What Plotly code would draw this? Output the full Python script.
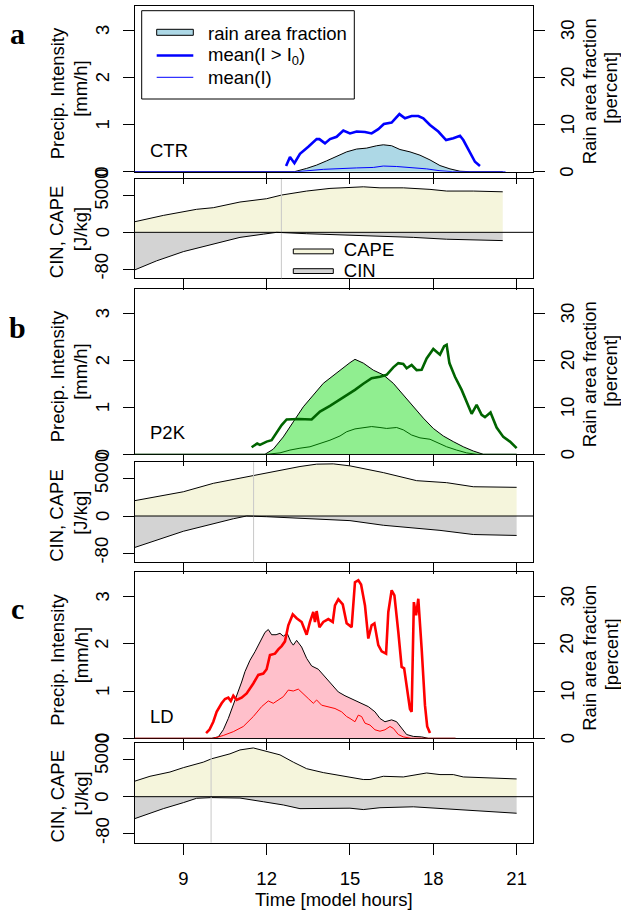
import plotly.graph_objects as go

# ---------------- data ----------------
hour_ticks = [9, 12, 15, 18, 21]
precip_ticks = [0, 1, 2, 3]
frac_ticks = [0, 10, 20, 30]
ref_times = [12.53, 11.53, 10.0]          # grey vertical marker per experiment
exp_names = ["CTR", "P2K", "LD"]
panel_letters = ["a", "b", "c"]

# CTR
ctr_int_t = [12.70, 12.84, 13.0, 13.2, 13.5, 13.62, 13.8, 13.9, 14.1, 14.28, 14.52, 14.76, 15.0, 15.24,
             15.54, 15.78, 16.02, 16.22, 16.5, 16.78, 16.98, 17.22, 17.46, 17.64, 17.88, 18.18, 18.46,
             18.72, 18.96, 19.08, 19.32, 19.5, 19.68]
ctr_int = [0.12, 0.31, 0.18, 0.38, 0.53, 0.60, 0.69, 0.69, 0.60, 0.69, 0.74, 0.87, 0.81, 0.85,
           0.84, 0.81, 0.90, 1.01, 1.04, 1.22, 1.13, 1.18, 1.18, 1.13, 0.99, 0.85, 0.67,
           0.71, 0.76, 0.67, 0.39, 0.21, 0.12]
ctr_frac_t = [7.0, 13.0, 13.44, 13.8, 14.16, 14.52, 14.88, 15.24, 15.6, 15.96, 16.2, 16.5, 16.8,
              17.16, 17.52, 17.88, 18.24, 18.6, 18.96, 19.32, 20.5]
ctr_frac = [0, 0, 0.7, 1.4, 2.3, 3.3, 4.2, 4.8, 5.0, 5.5, 5.7, 5.5, 4.7,
            4.2, 3.5, 2.5, 1.3, 0.6, 0.1, 0, 0]
ctr_mean_t = [7.0, 13.1, 14.04, 14.64, 15.24, 15.84, 16.2, 16.68, 17.28, 17.76, 18.24, 18.7, 20.6]
ctr_mean = [0, 0, 0.05, 0.07, 0.08, 0.09, 0.12, 0.11, 0.08, 0.06, 0.02, 0, 0]

# P2K
p2k_int_t = [11.46, 11.58, 11.66, 11.76, 12.0, 12.18, 12.36, 12.54, 12.72, 13.14, 13.62, 13.92, 14.28,
             14.64, 14.88, 15.18, 15.48, 15.78, 16.08, 16.32, 16.56, 16.74, 16.92, 17.04, 17.22, 17.40,
             17.58, 17.76, 18.0, 18.24, 18.39, 18.48, 18.58, 18.78, 19.02, 19.26, 19.38, 19.56, 19.74,
             19.86, 20.06, 20.28, 20.52, 20.76, 21.0]
p2k_int = [0.15, 0.20, 0.23, 0.20, 0.27, 0.30, 0.45, 0.62, 0.74, 0.75, 0.74, 0.91, 1.03,
           1.16, 1.26, 1.37, 1.50, 1.62, 1.65, 1.69, 1.85, 1.94, 1.92, 1.83, 1.90, 1.79,
           1.80, 2.04, 2.24, 2.12, 2.30, 2.33, 1.94, 1.65, 1.37, 1.05, 0.86, 1.05, 0.84,
           0.79, 0.89, 0.57, 0.37, 0.27, 0.13]
p2k_frac_t = [7.0, 11.94, 12.24, 12.6, 12.96, 13.32, 13.68, 14.04, 14.28, 14.64, 15.0, 15.18, 15.48,
              15.84, 16.2, 16.56, 16.92, 17.28, 17.64, 18.0, 18.36, 18.72, 19.08, 19.44, 19.8, 21.0]
p2k_frac = [0, 0, 1.1, 3.7, 6.9, 10.1, 12.6, 15.1, 16.2, 17.9, 19.5, 20.2, 19.4,
            17.9, 16.9, 15.1, 12.6, 10.1, 7.7, 5.5, 3.9, 2.7, 1.6, 0.7, 0, 0]
p2k_mean_t = [7.0, 12.0, 12.48, 12.84, 13.2, 13.56, 13.92, 14.28, 14.64, 14.88, 15.18, 15.48, 15.78,
              16.08, 16.32, 16.68, 16.92, 17.22, 17.52, 17.88, 18.24, 18.48, 18.84, 19.2, 19.56, 21.0]
p2k_mean = [0, 0, 0.03, 0.09, 0.13, 0.16, 0.23, 0.30, 0.39, 0.48, 0.54, 0.57, 0.59,
            0.57, 0.55, 0.57, 0.52, 0.41, 0.35, 0.32, 0.23, 0.16, 0.09, 0.03, 0, 0]

# LD
ld_int_t = [9.82, 9.94, 10.08, 10.2, 10.38, 10.5, 10.62, 10.71, 10.8, 10.92, 11.1, 11.28, 11.52, 11.7,
            11.88, 12.0, 12.12, 12.3, 12.42, 12.54, 12.66, 12.78, 12.94, 13.08, 13.26, 13.44, 13.56,
            13.68, 13.74, 13.8, 13.9, 14.04, 14.22, 14.38, 14.46, 14.58, 14.74, 14.88, 15.06, 15.18,
            15.3, 15.4, 15.54, 15.66, 15.78, 15.88, 16.02, 16.14, 16.3, 16.38, 16.5, 16.6, 16.74,
            16.86, 16.95, 17.04, 17.16, 17.22, 17.3, 17.38, 17.46, 17.58, 17.7, 17.78, 17.88]
ld_int = [0.11, 0.18, 0.35, 0.56, 0.74, 0.83, 0.86, 0.79, 0.90, 0.81, 0.86, 0.95, 1.16, 1.34,
          1.37, 1.46, 1.76, 1.79, 1.88, 1.95, 2.05, 2.39, 2.62, 2.54, 2.46, 2.19, 2.46,
          2.67, 2.46, 2.69, 2.35, 2.46, 2.52, 2.46, 2.81, 2.94, 2.83, 2.43, 2.35, 3.30,
          3.34, 3.25, 2.81, 2.11, 2.39, 2.43, 1.97, 1.84, 1.79, 2.67, 3.13, 3.02, 2.25,
          1.51, 1.48, 1.12, 0.62, 0.56, 2.88, 2.60, 2.95, 1.90, 0.70, 0.25, 0.11]
ld_frac_t = [7.0, 10.02, 10.26, 10.44, 10.62, 10.8, 10.98, 11.1, 11.22, 11.4, 11.58, 11.76, 11.94, 12.06,
             12.18, 12.34, 12.48, 12.6, 12.74, 12.87, 12.96, 13.08, 13.18, 13.26, 13.44, 13.62, 13.86,
             14.1, 14.34, 14.58, 14.82, 15.0, 15.18, 15.42, 15.66, 15.9, 16.08, 16.26, 16.5, 16.68,
             16.86, 17.04, 17.28, 17.58, 17.82, 18.8]
ld_frac = [0, 0, 0.3, 1.8, 4.2, 7.0, 9.8, 11.9, 14.1, 16.5, 18.3, 20.4, 22.4, 23.0,
           21.9, 21.9, 22.2, 21.6, 22.2, 20.4, 19.7, 20.7, 20.0, 19.3, 16.9, 15.3, 14.6,
           13.0, 11.2, 9.8, 9.0, 8.5, 7.9, 7.4, 6.7, 5.6, 4.2, 3.5, 3.9, 3.5,
           2.1, 0.8, 0.4, 0.3, 0, 0]
ld_mean_t = [7.0, 10.08, 10.44, 10.8, 11.16, 11.52, 11.82, 12.06, 12.24, 12.42, 12.6, 12.78, 12.96,
             13.14, 13.32, 13.5, 13.68, 13.8, 13.98, 14.22, 14.46, 14.7, 14.88, 15.0, 15.18, 15.3,
             15.42, 15.54, 15.72, 15.9, 16.08, 16.26, 16.44, 16.56, 16.74, 16.92, 17.2, 18.8]
ld_mean = [0, 0, 0.06, 0.14, 0.25, 0.46, 0.67, 0.79, 0.74, 0.81, 0.88, 1.02, 1.0,
           1.04, 0.95, 0.84, 0.74, 0.81, 0.70, 0.67, 0.63, 0.56, 0.46, 0.42, 0.35, 0.49,
           0.46, 0.32, 0.28, 0.18, 0.15, 0.18, 0.25, 0.21, 0.08, 0.03, 0, 0]

# CAPE / CIN  [J/kg]
ctr_cape_t = [7.0, 8.28, 9.48, 10.08, 11.04, 12.0, 12.54, 13.44, 14.28, 15.48, 16.08, 16.92, 17.88, 18.48, 19.44, 20.5]
ctr_cape = [1230, 2300, 3130, 3350, 4120, 4570, 5070, 5610, 5970, 6190, 6050, 6050, 5840, 5610, 5610, 5510]
ctr_cin_t = [7.0, 8.04, 9.0, 10.08, 11.04, 11.88, 12.36, 13.44, 15.48, 17.28, 18.48, 20.5]
ctr_cin = [-88, -62, -42, -25.5, -11, -4, 0, -3, -7, -11, -15, -18]

p2k_cape_t = [7.0, 9.0, 10.08, 11.04, 11.52, 12.6, 13.2, 13.8, 14.4, 15.0, 16.2, 17.4, 18.48, 19.44, 21.0]
p2k_cape = [1900, 3270, 4410, 5100, 5450, 6320, 6680, 7000, 7040, 6770, 5860, 4770, 4500, 3950, 3870]
p2k_cin_t = [7.0, 9.0, 10.8, 11.28, 12.0, 13.8, 14.4, 15.0, 16.2, 17.4, 18.24, 19.44, 21.0]
p2k_cin = [-73, -33, -6, 0, -1.5, -6, -8, -10, -20, -27, -31, -40, -42]

ld_cape_t = [7.0, 7.8, 8.52, 9.0, 9.72, 10.02, 10.68, 11.04, 11.52, 12.0, 12.48, 12.96, 13.44, 14.04,
             14.76, 15.48, 15.72, 16.2, 16.92, 17.76, 18.24, 18.72, 19.08, 20.04, 20.64, 21.0]
ld_cape = [1800, 2770, 3350, 3940, 4690, 5150, 5820, 6350, 6620, 6130, 5680, 4690, 3800, 3270,
           2770, 2330, 2330, 2770, 2680, 3220, 3000, 3000, 2680, 2550, 2370, 2410]
ld_cin_t = [7.0, 8.28, 9.0, 9.48, 10.02, 11.04, 11.88, 12.6, 13.2, 14.28, 15.0, 15.48, 16.08, 17.28,
            18.48, 19.32, 21.0]
ld_cin = [-53, -26, -13, -3.5, -2, -3, -11, -18, -26, -26, -25, -28, -24, -22, -26, -30, -36]

cape_unit = 5000.0   # CAPE tick "5000" and CIN tick "-80" share one plotted unit
cin_unit = 80.0
energy_tick_pos = [-1, 0, 1]
energy_tick_text = ["-80", "0", "5000"]

# ---------------- layout helpers ----------------
W, H = 621, 911
FONT = "Liberation Sans, Arial, sans-serif"
FS = 18.5


def fx(p):
    return p / W


def fy(p):
    return 1 - p / H


X_DOM = [fx(134.7), fx(533.3)]
X_RANGE = [7.25, 21.6]
PRE_BOX = [(6.0, 171.7), (289.3, 454.3), (572.3, 738.3)]
CAPE_BOX = [(179.0, 278.3), (462.3, 562.3), (743.3, 842.7)]

styles = [
    dict(line="#0000FF", fill="#ADD8E6"),
    dict(line="#006400", fill="#90EE90"),
    dict(line="#FF0000", fill="#FFC0CB"),
]
data = [
    (ctr_int_t, ctr_int, ctr_frac_t, ctr_frac, ctr_mean_t, ctr_mean, ctr_cape_t, ctr_cape, ctr_cin_t, ctr_cin),
    (p2k_int_t, p2k_int, p2k_frac_t, p2k_frac, p2k_mean_t, p2k_mean, p2k_cape_t, p2k_cape, p2k_cin_t, p2k_cin),
    (ld_int_t, ld_int, ld_frac_t, ld_frac, ld_mean_t, ld_mean, ld_cape_t, ld_cape, ld_cin_t, ld_cin),
]

fig = go.Figure()
layout = dict(width=W, height=H, autosize=False, margin=dict(l=0, r=0, t=0, b=0),
              paper_bgcolor="white", plot_bgcolor="white", showlegend=False,
              font=dict(family=FONT, size=FS, color="black"))
shapes, annotations = [], []

tick_font = dict(family=FONT, size=FS, color="black")


def tick_label(text, xpix, yref, yval, yshift=0):
    annotations.append(dict(x=fx(xpix), y=yval, xref="paper", yref=yref, text=text,
                            showarrow=False, textangle=-90, font=tick_font, yshift=yshift,
                            xanchor="center", yanchor="middle"))


def rot_title(text, xpix, ypix):
    annotations.append(dict(x=fx(xpix), y=fy(ypix), xref="paper", yref="paper", text=text,
                            showarrow=False, textangle=-90, font=dict(size=FS),
                            xanchor="center", yanchor="middle"))


for i in range(3):
    (it, iv, ft, fv, mt, mv, ct, cv, nt, nv) = data[i]
    st = styles[i]
    n_pre = 2 * i + 1
    n_cape = 2 * i + 2
    n_over = 7 + i
    xa_pre = "x" if n_pre == 1 else f"x{n_pre}"
    ya_pre = "y" if n_pre == 1 else f"y{n_pre}"
    xa_cape, ya_cape = f"x{n_cape}", f"y{n_cape}"
    ya_over = f"y{n_over}"

    # rain area fraction (percent, right axis) -- main subplot so lines draw above it
    fig.add_trace(go.Scatter(x=ft, y=fv, xaxis=xa_pre, yaxis=ya_pre, mode="lines",
                             line=dict(color="black", width=1), fill="tozeroy",
                             fillcolor=st["fill"], hoverinfo="skip"))
    fig.add_trace(go.Scatter(x=mt, y=mv, xaxis=xa_pre, yaxis=ya_over, mode="lines",
                             line=dict(color=st["line"], width=1), hoverinfo="skip"))
    fig.add_trace(go.Scatter(x=it, y=iv, xaxis=xa_pre, yaxis=ya_over, mode="lines",
                             line=dict(color=st["line"], width=2.6), hoverinfo="skip"))

    # CAPE / CIN
    fig.add_trace(go.Scatter(x=ct, y=[v / cape_unit for v in cv], xaxis=xa_cape, yaxis=ya_cape,
                             mode="lines", line=dict(color="black", width=1), fill="tozeroy",
                             fillcolor="#F5F5DC", hoverinfo="skip"))
    fig.add_trace(go.Scatter(x=nt, y=[v / cin_unit for v in nv], xaxis=xa_cape, yaxis=ya_cape,
                             mode="lines", line=dict(color="black", width=1), fill="tozeroy",
                             fillcolor="#D3D3D3", hoverinfo="skip"))

    pb = PRE_BOX[i]
    cb = CAPE_BOX[i]
    key_pre = "xaxis" if n_pre == 1 else f"xaxis{n_pre}"
    keyy_pre = "yaxis" if n_pre == 1 else f"yaxis{n_pre}"
    axis_common = dict(showgrid=False, zeroline=False, showline=True, linecolor="black",
                       linewidth=1, mirror=True, ticks="outside", ticklen=11, tickwidth=1,
                       tickcolor="black", tickfont=tick_font)
    layout[key_pre] = dict(domain=X_DOM, range=X_RANGE, anchor=ya_pre, tickvals=hour_ticks,
                           showticklabels=False, layer="below traces", **axis_common)
    layout[keyy_pre] = dict(domain=[fy(pb[1]), fy(pb[0])], range=[0, 35.1], anchor=xa_pre,
                            side="right", tickvals=frac_ticks, showticklabels=False,
                            layer="below traces", **axis_common)
    layout[f"yaxis{n_over}"] = dict(overlaying=ya_pre, anchor=xa_pre, side="left", range=[0, 3.51],
                                    tickvals=precip_ticks, showticklabels=False,
                                    showgrid=False, zeroline=False, showline=False,
                                    ticks="outside", ticklen=11, tickwidth=1, tickcolor="black")
    layout[f"xaxis{n_cape}"] = dict(domain=X_DOM, range=X_RANGE, anchor=ya_cape, tickvals=hour_ticks,
                                    showticklabels=(i == 2), ticklabelstandoff=8, **axis_common)
    layout[f"yaxis{n_cape}"] = dict(domain=[fy(cb[1]), fy(cb[0])], range=[-1.25, 1.45],
                                    anchor=xa_cape, tickvals=energy_tick_pos,
                                    showticklabels=False, **axis_common)

    # tick labels (rotated, as in R)
    for v in precip_ticks:
        tick_label(str(v), 102, ya_over, v)
    for v in frac_ticks:
        tick_label(str(v), 567, ya_pre, v)
    for v, t in zip(energy_tick_pos, energy_tick_text):
        tick_label(t, 102, ya_cape, v, yshift={1: 6, 0: 0, -1: 2.5}[v])

    # grey reference line and zero line in the CAPE panel
    shapes.append(dict(type="line", xref=xa_cape, yref=f"{ya_cape} domain", x0=ref_times[i],
                       x1=ref_times[i], y0=0, y1=1, line=dict(color="#C8C8C8", width=1),
                       layer="above"))
    shapes.append(dict(type="line", xref=f"{xa_cape} domain", yref=ya_cape, x0=0, x1=1, y0=0, y1=0,
                       line=dict(color="black", width=1), layer="above"))

    # panel letter and experiment label
    pc = (pb[0] + pb[1]) / 2
    cc = (cb[0] + cb[1]) / 2
    letter_y = [33, 327, 608][i]
    annotations.append(dict(x=fx(17.5), y=fy(letter_y), xref="paper", yref="paper",
                            text=f"<b>{panel_letters[i]}</b>", showarrow=False,
                            font=dict(family="Liberation Serif, Times New Roman, serif", size=30,
                                      color="black"), xanchor="center", yanchor="middle"))
    annotations.append(dict(x=fx(148), y=fy(pb[1] - 21.5), xref="paper", yref="paper",
                            text=exp_names[i], showarrow=False, font=dict(size=FS),
                            xanchor="left", yanchor="middle"))
    # axis titles
    rot_title("Precip. Intensity", 57.5, pc + 5)
    rot_title("[mm/h]", 81, pc)
    rot_title("Rain area fraction", 589.5, pc + 3)
    rot_title("[percent]", 611, pc - 1)
    rot_title("CIN, CAPE", 56.5, cc + 3)
    rot_title("[J/kg]", 80.5, cc + 1)

# precipitation legend (panel a)
shapes.append(dict(type="rect", xref="paper", yref="paper", x0=fx(141.7), x1=fx(354.3),
                   y0=fy(99), y1=fy(10.7), line=dict(color="black", width=1),
                   fillcolor="white", layer="above"))
shapes.append(dict(type="rect", xref="paper", yref="paper", x0=fx(156.7), x1=fx(193.3),
                   y0=fy(35.3), y1=fy(29.3), line=dict(color="black", width=1),
                   fillcolor=styles[0]["fill"], layer="above"))
shapes.append(dict(type="line", xref="paper", yref="paper", x0=fx(156.7), x1=fx(193.3),
                   y0=fy(55.5), y1=fy(55.5), line=dict(color=styles[0]["line"], width=2.6),
                   layer="above"))
shapes.append(dict(type="line", xref="paper", yref="paper", x0=fx(156.7), x1=fx(193.3),
                   y0=fy(77.3), y1=fy(77.3), line=dict(color=styles[0]["line"], width=1),
                   layer="above"))
for txt, yy in [("rain area fraction", 33), ("mean(I > I<sub>0</sub>)", 56), ("mean(I)", 77)]:
    annotations.append(dict(x=fx(206), y=fy(yy), xref="paper", yref="paper", text=txt,
                            showarrow=False, font=dict(size=FS), xanchor="left", yanchor="middle"))

# CAPE / CIN legend (panel a)
shapes.append(dict(type="rect", xref="paper", yref="paper", x0=fx(293.3), x1=fx(333.3),
                   y0=fy(253.8), y1=fy(249.0), line=dict(color="black", width=1),
                   fillcolor="#F5F5DC", layer="above"))
shapes.append(dict(type="rect", xref="paper", yref="paper", x0=fx(293.3), x1=fx(333.3),
                   y0=fy(273.5), y1=fy(268.7), line=dict(color="black", width=1),
                   fillcolor="#D3D3D3", layer="above"))
fig.add_trace(go.Scatter(x=[14.78, 14.78], y=[-0.51, -1.095], xaxis="x2", yaxis="y2", mode="text",
                         text=["CAPE", "CIN"], textposition="middle right",
                         textfont=dict(family=FONT, size=FS, color="black"), cliponaxis=True,
                         hoverinfo="skip"))

annotations.append(dict(x=fx(334), y=fy(899), xref="paper", yref="paper", text="Time [model hours]",
                        showarrow=False, font=dict(size=FS), xanchor="center", yanchor="middle"))

layout["shapes"] = shapes
layout["annotations"] = annotations
fig.update_layout(**layout)
fig.write_html("out.html", config={"displayModeBar": False},
               post_script="document.body.style.margin='0';")
